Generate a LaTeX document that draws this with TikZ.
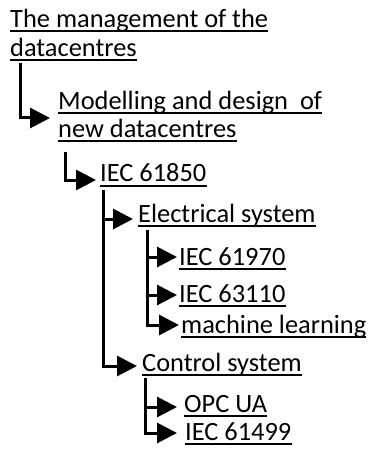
\documentclass[tikz,border=0pt]{standalone}
\usepackage{fontspec}
\setmainfont{Carlito}
\usetikzlibrary{arrows.meta}
\begin{document}
\begin{tikzpicture}[x=1pt,y=-1pt,
  item/.style={anchor=base west,inner sep=0pt,font=\fontsize{26.4}{31}\selectfont},
  uline/.style={line width=2pt},
  conn/.style={line width=3pt,-{Triangle[length=20pt,width=20pt]}}]
\useasboundingbox (0,0) rectangle (368,449);
% tree entries
\node[item] (t1) at (10,28) {The management of the};
\node[item] (t2) at (10,57) {datacentres};
\node[item] (m1) at (58,110) {Modelling and design~ of};
\node[item] (m2) at (58,138) {new datacentres};
\node[item] (iec) at (100,182) {IEC 61850};
\node[item] (el) at (138,222) {Electrical system};
\node[item] (a) at (179,265) {IEC 61970};
\node[item] (b) at (179,302) {IEC 63110};
\node[item] (c) at (181,333) {machine learning};
\node[item] (ct) at (142,371) {Control system};
\node[item] (o) at (184,412) {OPC UA};
\node[item] (d) at (185,440) {IEC 61499};
% underlines
\foreach \n in {t1,t2,m1,m2,iec,el,a,b,c,ct,o,d}
  \draw[uline] ([yshift=-3.5pt]\n.base west) -- ([yshift=-3.5pt]\n.base east);
% branches
\draw[conn] ([xshift=10pt,yshift=-6pt]t2.base west) |- ([xshift=-8pt,yshift=-8pt]m1.base west);
\draw[conn] ([xshift=7pt,yshift=-14pt]m2.base west) |- ([xshift=-4pt,yshift=2pt]iec.base west);
\draw[conn] ([xshift=3pt,yshift=-8pt]iec.base west) |- ([xshift=-5pt,yshift=3pt]el.base west);
\draw[conn] ([xshift=3pt,yshift=-8pt]iec.base west) |- ([xshift=-5pt,yshift=5pt]ct.base west);
\draw[conn] ([xshift=9pt,yshift=-8pt]el.base west) |- ([xshift=-2pt,yshift=8pt]a.base west);
\draw[conn] ([xshift=9pt,yshift=-8pt]el.base west) |- ([xshift=-2pt,yshift=7pt]b.base west);
\draw[conn] ([xshift=9pt,yshift=-8pt]el.base west) |- ([xshift=-2pt,yshift=8pt]c.base west);
\draw[conn] ([xshift=3pt,yshift=-7pt]ct.base west) |- ([xshift=-7pt,yshift=5pt]o.base west);
\draw[conn] ([xshift=3pt,yshift=-7pt]ct.base west) |- ([xshift=-8pt,yshift=7pt]d.base west);
\end{tikzpicture}
\end{document}
